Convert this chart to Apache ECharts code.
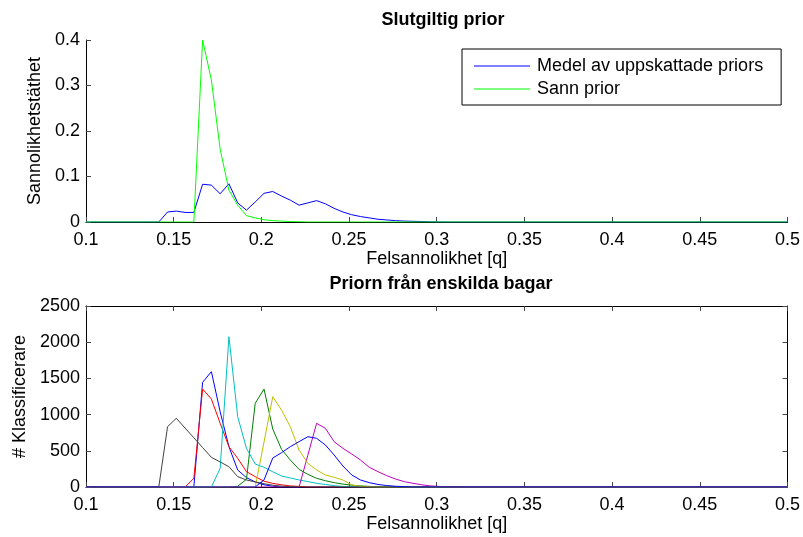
<!DOCTYPE html>
<html>
<head>
<meta charset="utf-8">
<script src="https://cdn.jsdelivr.net/npm/echarts@6/dist/echarts.min.js"></script>
<style>html,body{margin:0;padding:0;background:#fff}#c{width:803px;height:537px}</style>
</head>
<body>
<div id="c"></div>
<script>
// shared q grid (Felsannolikhet) incl. axis endpoints 0.1 and 0.5
const q = [0.1,
  0.1365,0.1415,0.1465,0.1515,0.1565,0.1615,0.1665,0.1715,0.1765,0.1815,
  0.1865,0.1915,0.1965,0.2015,0.2065,0.2115,0.2165,0.2215,0.2265,0.2315,
  0.2365,0.2415,0.2465,0.2515,0.2565,0.2615,0.2665,0.2715,0.2765,0.2815,
  0.2865,0.2915,0.2965,0.3015,0.3065,0.3115,0.3165,
  0.5];

// top plot
const meanPrior = [0,
  0,0,0.022,0.024,0.021,0.021,0.083,0.081,0.062,0.084,
  0.042,0.026,0.044,0.063,0.067,0.057,0.048,0.037,0.042,0.047,
  0.040,0.030,0.022,0.016,0.012,0.009,0.006,0.0045,0.003,0.002,
  0.0015,0.001,0.0005,0.0002,0,0,0,
  0];
const truePrior = [0,
  0,0,0,0,0,0,0.400,0.312,0.160,0.070,
  0.037,0.014,0.009,0.005,0.003,0.002,0.001,0.0005,0,0,
  0,0,0,0,0,0,0,0,0,0,
  0,0,0,0,0,0,0,
  0];

// bottom plot: one array per bag
const bag1 = [0, // blue
  0,0,0,0,0,0,1446,1593,1040,557,
  235,129,70,30,10,0,0,0,0,0,
  0,0,0,0,0,0,0,0,0,0,
  0,0,0,0,0,0,0,
  0];
const bag2 = [0, // green
  0,0,0,0,0,0,0,0,0,0,
  10,106,1156,1353,800,520,373,244,175,120,
  87,60,40,25,15,8,0,0,0,0,
  0,0,0,0,0,0,0,
  0];
const bag3 = [0, // red
  0,0,0,0,0,120,1353,1215,880,557,
  396,212,143,80,50,30,15,8,0,0,
  0,0,0,0,0,0,0,0,0,0,
  0,0,0,0,0,0,0,
  0];
const bag4 = [0, // cyan
  0,0,0,0,0,0,0,0,258,2076,
  971,534,317,272,210,152,125,97,75,51,
  35,18,8,3,0,0,0,0,0,0,
  0,0,0,0,0,0,0,
  0];
const bag5 = [0, // magenta
  0,0,0,0,0,0,0,0,0,0,
  0,0,0,0,0,0,0,0,440,880,
  810,626,534,456,373,272,212,157,110,74,
  51,30,15,8,3,0,0,
  0];
const bag6 = [0, // yellow
  0,0,0,0,0,0,0,0,0,0,
  0,0,0,620,1247,1063,833,511,327,235,
  166,134,97,28,10,3,0,0,0,0,
  0,0,0,0,0,0,0,
  0];
const bag7 = [0, // dark grey
  0,0,833,949,814,680,545,410,345,281,
  143,97,70,45,25,12,5,0,0,0,
  0,0,0,0,0,0,0,0,0,0,
  0,0,0,0,0,0,0,
  0];
const bag8 = [0, // blue (second)
  0,0,0,0,0,0,0,0,0,0,
  0,0,0,97,400,474,557,626,695,672,
  580,442,290,166,97,60,35,20,10,5,
  0,0,0,0,0,0,0,
  0];

const xTicks = [0.1, 0.5, 0.05];
const topY = [0, 0.4, 0.1];
const botY = [0, 2500, 500];

const bags = [bag1, bag2, bag3, bag4, bag5, bag6, bag7, bag8];
const bagColors = ['#0000ff','#008000','#ff0000','#00bfbf','#bf00bf','#bfbf00','#404040','#0000ff'];

const FONT = 'Liberation Sans';
const FS = 18;
const pairs = arr => q.map((x, i) => [x, arr[i]]);
const plain = v => String(v);

function xAxisCfg(gridIndex, name, gap, extra) {
  return Object.assign({
    type: 'value', gridIndex, min: xTicks[0], max: xTicks[1], interval: xTicks[2],
    name, nameLocation: 'middle', nameGap: gap,
    nameTextStyle: {fontSize: FS, color: '#000', fontFamily: FONT},
    axisLine: {show: true, onZero: false, lineStyle: {color: '#000', width: 1}},
    axisTick: {show: true, inside: true, length: 5, lineStyle: {color: '#444'}},
    axisLabel: {fontSize: FS, color: '#000', fontFamily: FONT, margin: 9, formatter: plain},
    splitLine: {show: false}
  }, extra || {});
}
function yAxisCfg(gridIndex, r, name, gap, extra) {
  return Object.assign({
    type: 'value', gridIndex, min: r[0], max: r[1], interval: r[2],
    name, nameLocation: 'middle', nameGap: gap,
    nameTextStyle: {fontSize: FS, color: '#000', fontFamily: FONT},
    axisLine: {show: true, onZero: false, lineStyle: {color: '#000', width: 1}},
    axisTick: {show: true, inside: true, length: 5, lineStyle: {color: '#444'}},
    axisLabel: {fontSize: FS, color: '#000', fontFamily: FONT, margin: 6, formatter: plain},
    splitLine: {show: false}
  }, extra || {});
}

const series = [
  {name: 'Medel av uppskattade priors', type: 'line', xAxisIndex: 0, yAxisIndex: 0,
   data: pairs(meanPrior), showSymbol: false, symbol: 'none', lineStyle: {color: '#0000ff', width: 1}, itemStyle: {color: '#0000ff'}},
  {name: 'Sann prior', type: 'line', xAxisIndex: 0, yAxisIndex: 0,
   data: pairs(truePrior), showSymbol: false, symbol: 'none', lineStyle: {color: '#00ff00', width: 1}, itemStyle: {color: '#00ff00'}}
];
bags.forEach((b, k) => series.push({
  name: 'bag' + (k + 1), type: 'line', xAxisIndex: 1, yAxisIndex: 1,
  data: pairs(b), showSymbol: false, symbol: 'none',
  lineStyle: {color: bagColors[k], width: 1}, itemStyle: {color: bagColors[k]}
}));

const chart = echarts.init(document.getElementById('c'), null, {renderer: 'canvas'});
chart.setOption({
  animation: false,
  backgroundColor: '#fff',
  title: [
    {text: 'Slutgiltig prior', left: 438, top: 6, textAlign: 'center',
     textStyle: {fontSize: FS, fontWeight: 'bold', color: '#000', fontFamily: FONT}},
    {text: 'Priorn från enskilda bagar', left: 436, top: 270, textAlign: 'center',
     textStyle: {fontSize: FS, fontWeight: 'bold', color: '#000', fontFamily: FONT}}
  ],
  legend: {
    data: [
      {name: 'Medel av uppskattade priors', icon: 'rect'},
      {name: 'Sann prior', icon: 'rect'}
    ],
    orient: 'vertical', left: 462, top: 49,
    borderColor: '#000', borderWidth: 1, backgroundColor: '#fff',
    padding: [8, 18, 7, 12], itemGap: 5, itemWidth: 56, itemHeight: 1,
    textStyle: {fontSize: FS, color: '#000', fontFamily: FONT, padding: [0, 0, 0, 2]}
  },
  grid: [
    {left: 86, top: 40, width: 704, height: 182},
    {left: 86, top: 306, width: 704, height: 181}
  ],
  xAxis: [
    xAxisCfg(0, 'Felsannolikhet [q]', 21),
    xAxisCfg(1, 'Felsannolikhet [q]', 22),
    xAxisCfg(1, '', 0, {position: 'top', axisLabel: {show: false}})
  ],
  yAxis: [
    yAxisCfg(0, topY, 'Sannolikhetstäthet', 42),
    yAxisCfg(1, botY, '# Klassificerare', 57),
    yAxisCfg(1, botY, '', 0, {position: 'right', axisLabel: {show: false}})
  ],
  series
});
</script>
</body>
</html>
